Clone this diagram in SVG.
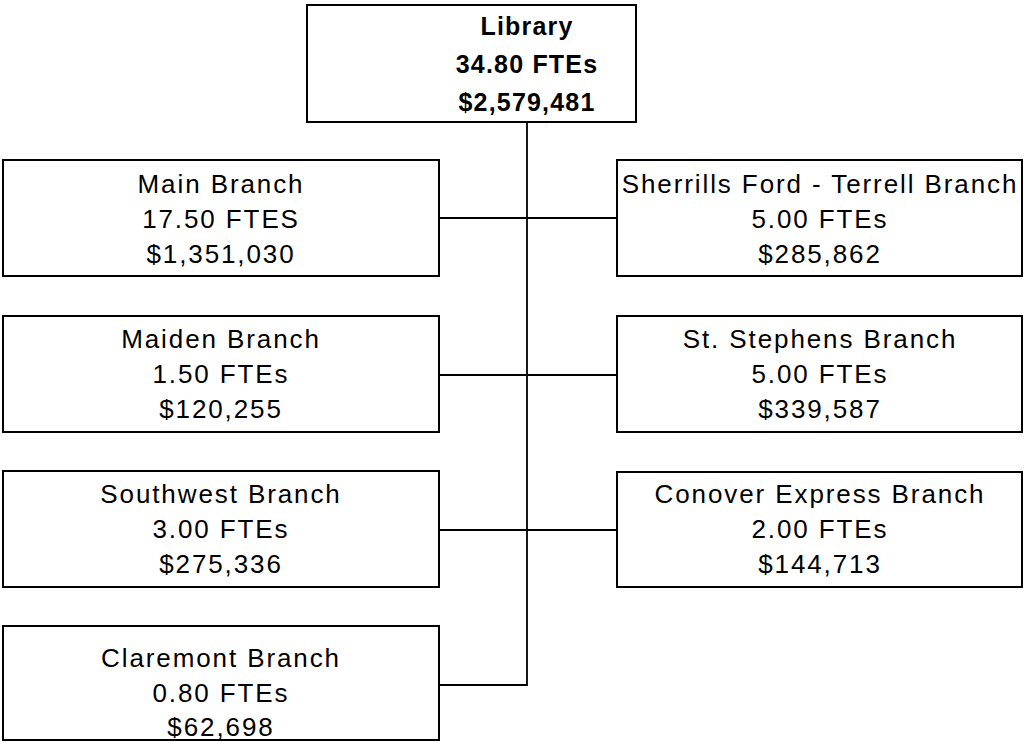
<svg xmlns="http://www.w3.org/2000/svg" width="1024" height="742" viewBox="0 0 1024 742">
<style>
.box{fill:#fff;stroke:#000;stroke-width:2}
.t{font-family:"Liberation Sans",Arial,sans-serif;font-size:26px;letter-spacing:1.9px;text-anchor:middle;fill:#000}
.b{font-family:"Liberation Sans",Arial,sans-serif;font-size:25px;font-weight:bold;letter-spacing:1.2px;text-anchor:middle;fill:#000}
.ln{stroke:#000;stroke-width:1.8;fill:none}
</style>
<rect width="1024" height="742" fill="#fff"/>
<g id="connectors">
<path class="ln" d="M527,122 V685 H439"/>
<path class="ln" d="M439,218 H617"/>
<path class="ln" d="M439,375 H617"/>
<path class="ln" d="M439,530 H617"/>
</g>
<g id="library">
<rect class="box" x="307" y="5" width="329" height="117"/>
<text class="b" x="527" y="35">Library</text>
<text class="b" x="527" y="73">34.80 FTEs</text>
<text class="b" x="527" y="111">$2,579,481</text>
</g>
<g id="main">
<rect class="box" x="3" y="160" width="436" height="116"/>
<text class="t" x="221" y="193">Main Branch</text>
<text class="t" x="221" y="228">17.50 FTES</text>
<text class="t" x="221" y="263">$1,351,030</text>
</g>
<g id="maiden">
<rect class="box" x="3" y="316" width="436" height="116"/>
<text class="t" x="221" y="348">Maiden Branch</text>
<text class="t" x="221" y="383">1.50 FTEs</text>
<text class="t" x="221" y="418">$120,255</text>
</g>
<g id="southwest">
<rect class="box" x="3" y="471" width="436" height="116"/>
<text class="t" x="221" y="503">Southwest Branch</text>
<text class="t" x="221" y="538">3.00 FTEs</text>
<text class="t" x="221" y="573">$275,336</text>
</g>
<g id="claremont">
<rect class="box" x="3" y="626" width="436" height="114"/>
<text class="t" x="221" y="667">Claremont Branch</text>
<text class="t" x="221" y="702">0.80 FTEs</text>
<text class="t" x="221" y="736">$62,698</text>
</g>
<g id="sherrills">
<rect class="box" x="617" y="160" width="405" height="116"/>
<text class="t" x="820" y="193">Sherrills Ford - Terrell Branch</text>
<text class="t" x="820" y="228">5.00 FTEs</text>
<text class="t" x="820" y="263">$285,862</text>
</g>
<g id="ststephens">
<rect class="box" x="617" y="316" width="405" height="116"/>
<text class="t" x="820" y="348">St. Stephens Branch</text>
<text class="t" x="820" y="383">5.00 FTEs</text>
<text class="t" x="820" y="418">$339,587</text>
</g>
<g id="conover">
<rect class="box" x="617" y="472" width="405" height="115"/>
<text class="t" x="820" y="503">Conover Express Branch</text>
<text class="t" x="820" y="538">2.00 FTEs</text>
<text class="t" x="820" y="573">$144,713</text>
</g>
</svg>
